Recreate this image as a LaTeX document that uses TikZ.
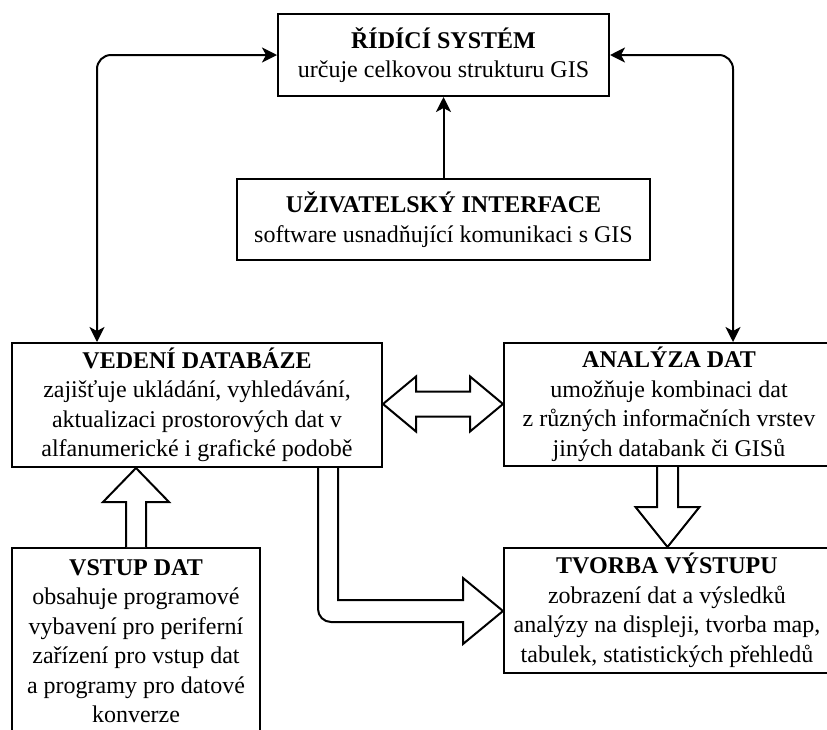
\documentclass[tikz,border=0pt]{standalone}
\usepackage{fontspec}
\setmainfont{Liberation Serif}
\usetikzlibrary{arrows.meta,calc}

\begin{document}
\begin{tikzpicture}[x=1pt,y=-1pt,
  box/.style={draw,line width=2pt,inner sep=0pt,align=center,
    font=\fontsize{24}{29.5}\selectfont},
  link/.style={line width=2pt,rounded corners=14pt},
  tip/.style={-{Stealth[length=15pt,width=15pt,inset=4pt]}},
  tips/.style={{Stealth[length=15pt,width=15pt,inset=4pt]}-{Stealth[length=15pt,width=15pt,inset=4pt]}},
  hollow/.style={line width=2pt,fill=white,line join=miter}
]
\useasboundingbox (0,0) rectangle (827,729);
\clip (0,0) rectangle (827,729);

% component boxes
\node[box,minimum width=331pt,minimum height=82pt] (ridici) at (443.5,55)
  {\textbf{ŘÍDÍCÍ SYSTÉM}\\určuje celkovou strukturu GIS};
\node[box,minimum width=413pt,minimum height=81pt] (uziv) at (443.5,219.5)
  {\textbf{UŽIVATELSKÝ INTERFACE}\\software usnadňující komunikaci s GIS};
\node[box,minimum width=370pt,minimum height=124pt] (vedeni) at (197,405)
  {\textbf{VEDENÍ DATABÁZE}\\zajišťuje ukládání, vyhledávání,\\aktualizaci prostorových dat v\\alfanumerické i grafické podobě};
\node[box,minimum width=330pt,minimum height=123pt] (analyza) at (669,404.5)
  {\textbf{ANALÝZA DAT}\\umožňuje kombinaci dat\\z různých informačních vrstev\\jiných databank či GISů};
\node[box,minimum width=248pt,minimum height=186pt] (vstup) at (136,641)
  {\textbf{VSTUP DAT}\\obsahuje programové\\vybavení pro periferní\\zařízení pro vstup dat\\a programy pro datové\\konverze};
\node[box,minimum width=326pt,minimum height=125pt] (tvorba) at (667,610.5)
  {\textbf{TVORBA VÝSTUPU}\\zobrazení dat a výsledků\\analýzy na displeji, tvorba map,\\tabulek, statistických přehledů};

% thin connectors
\draw[link,tip] (uziv.north) -- (ridici.south);
\coordinate (lc) at (97,55);
\coordinate (rc) at (733,55);
\draw[link,tips] (ridici.west) -- (lc) -- (lc |- vedeni.north);
\draw[link,tips] (ridici.east) -- (rc) -- (rc |- analyza.north);

% double block arrow between database and analysis
\coordinate (dl) at ($(vedeni.east |- 0,404)$);
\coordinate (dr) at ($(analyza.west |- 0,404)$);
\draw[hollow] (dl) -- ++(33,-27.5) -- ++(0,15) -- ($(dr)+(-33,-12.5)$) -- ++(0,-15)
  -- (dr) -- ++(-33,27.5) -- ++(0,-15) -- ($(dl)+(33,12.5)$) -- ++(0,15) -- cycle;

% block arrow from data input up to the database
\coordinate (vt) at (vstup.north);
\coordinate (vh) at (vt |- vedeni.south);
\draw[hollow] ($(vt)+(-10,0)$) -- ($(vt)+(-10,-45)$) -- ($(vt)+(-33,-45)$) -- (vh)
  -- ($(vt)+(33,-45)$) -- ($(vt)+(10,-45)$) -- ($(vt)+(10,0)$);

% block arrow from analysis down to output
\coordinate (at) at (667.5,0);
\coordinate (ab) at (at |- analyza.south);
\coordinate (ah) at (at |- tvorba.north);
\draw[hollow] ($(ab)+(-10.5,0)$) -- ($(ah)+(-10.5,-40)$) -- ($(ah)+(-32,-40)$) -- (ah)
  -- ($(ah)+(32,-40)$) -- ($(ah)+(10.5,-40)$) -- ($(ab)+(10.5,0)$);

% bent block arrow from the database to output
\coordinate (bt) at (tvorba.west |- 0,611);
\draw[hollow,fill=none] (318,467) [rounded corners=13pt] -- (318,622) [sharp corners] -- ($(bt)+(-40,11)$)
  -- ($(bt)+(-40,33)$) -- (bt) -- ($(bt)+(-40,-33)$) -- ($(bt)+(-40,-11)$)
  -- (338,600) -- (338,467);
\end{tikzpicture}
\end{document}
